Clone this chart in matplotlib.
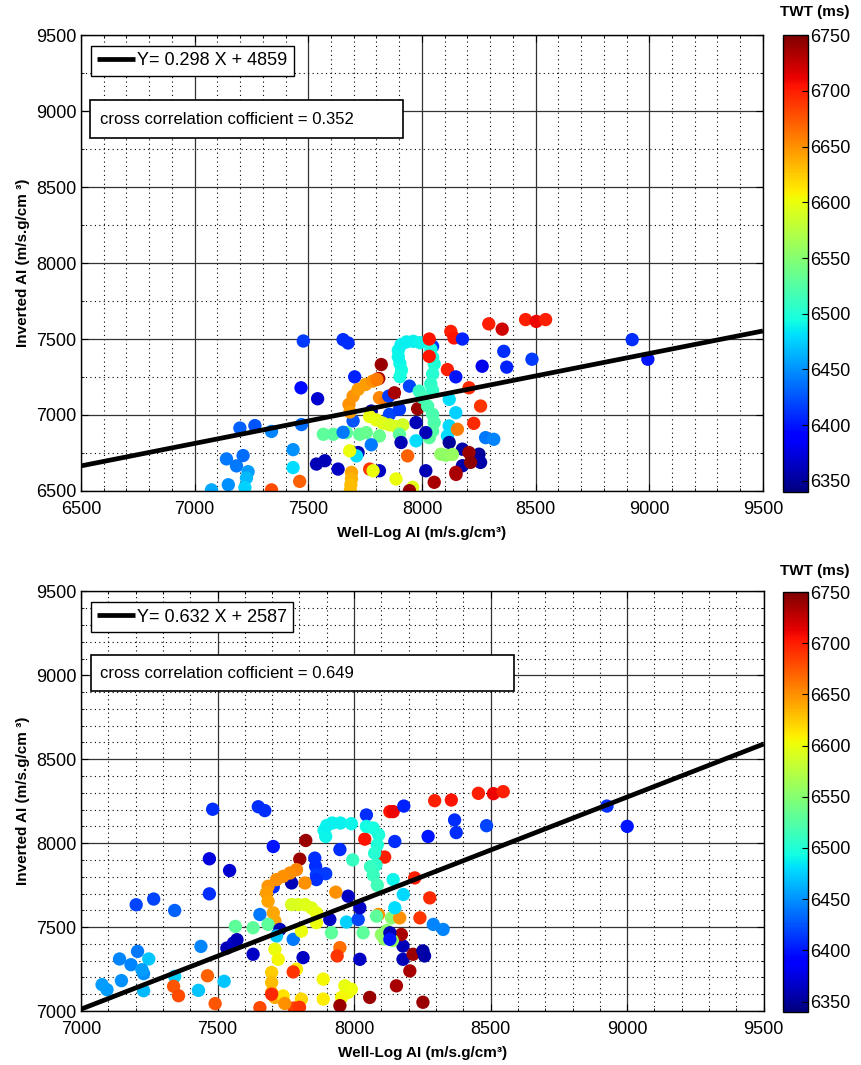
import numpy as np
import matplotlib
matplotlib.use("Agg")
from matplotlib import pyplot as plt
from matplotlib.patches import Rectangle
from matplotlib.ticker import MultipleLocator

plt.rcParams['font.family'] = ['Liberation Sans', 'DejaVu Sans']

# ---- top panel data (well-log AI, inverted AI, TWT) ----
top_welllog = [7199, 7265, 7338, 7470, 7140, 7184, 7213, 7235, 7228, 7148,
               7074, 7221, 7338, 7433, 7433, 7462, 7478, 7653, 7675, 7704,
               7468, 7541, 7821, 7810, 7679, 7697, 7719, 7752, 7784, 7802,
               7813, 7843, 7854, 7879, 7777, 7857, 7901, 7981, 7945, 7903,
               7910, 7903, 7896, 7896, 7908, 7932, 7962, 7991, 8047, 8039,
               8047, 8054, 8047, 8039, 8047, 7988, 8003, 8025, 8047, 8054,
               8047, 8032, 8120, 8149, 8120, 8112, 8127, 8141, 8294, 8353,
               8456, 8503, 8544, 8032, 8032, 8112, 8207, 8258, 8228, 8178,
               8149, 8265, 8360, 8373, 8484, 8925, 8994, 8280, 8316, 7770,
               7799, 7828, 7857, 7886, 7916, 7566, 7610, 7668, 7726, 7755,
               7813, 7901, 7653, 7697, 7777, 7908, 7974, 8017, 7974, 8120,
               8178, 8251, 8258, 8083, 8105, 8134, 8178, 8149, 8207, 8214,
               8156, 7937, 7719, 7712, 7682, 7536, 7573, 7631, 7813, 7770,
               7785, 7690, 7690, 7687, 7685, 7886, 7959, 8017, 8054, 7945,
               8150, 7683]
top_inverted = [6914, 6930, 6892, 6937, 6711, 6665, 6733, 6627, 6586, 6541,
                6507, 6523, 6507, 6772, 6654, 6563, 7487, 7496, 7474, 7251,
                7179, 7107, 7332, 7240, 7070, 7124, 7168, 7201, 7223, 7234,
                7114, 7103, 7124, 7146, 7026, 7004, 7037, 7041, 7190, 7252,
                7295, 7339, 7383, 7426, 7463, 7481, 7485, 7476, 7452, 7433,
                7380, 7336, 7271, 7205, 7162, 7157, 7114, 7059, 7004, 6950,
                6895, 6851, 7103, 7015, 6928, 6862, 7550, 7507, 7600, 7565,
                7628, 7616, 7628, 7500, 7386, 7299, 7179, 7059, 6945, 7500,
                7251, 7321, 7419, 7315, 7367, 7496, 7367, 6851, 6840, 6990,
                6968, 6946, 6935, 6924, 6935, 6873, 6873, 6884, 6873, 6884,
                6862, 6873, 6886, 6961, 6804, 6819, 6950, 6884, 6830, 6819,
                6775, 6742, 6688, 6742, 6735, 6740, 6666, 6622, 6753, 6688,
                6906, 6731, 6753, 6731, 6764, 6677, 6699, 6644, 6633, 6644,
                6633, 6622, 6580, 6540, 6502, 6579, 6524, 6633, 6557, 6502,
                6609, 7020]
top_twt = [6430, 6425, 6445, 6435, 6440, 6440, 6435, 6455, 6465, 6450,
           6460, 6475, 6680, 6450, 6480, 6670, 6415, 6410, 6410, 6405,
           6395, 6370, 6740, 6735, 6650, 6648, 6645, 6645, 6650, 6660,
           6655, 6660, 6415, 6735, 6355, 6420, 6415, 6740, 6420, 6495,
           6495, 6492, 6490, 6490, 6488, 6488, 6488, 6490, 6415, 6495,
           6497, 6500, 6502, 6505, 6508, 6510, 6515, 6518, 6520, 6522,
           6525, 6528, 6480, 6475, 6478, 6480, 6700, 6705, 6700, 6720,
           6700, 6710, 6700, 6705, 6705, 6700, 6695, 6690, 6695, 6405,
           6400, 6380, 6410, 6405, 6415, 6410, 6400, 6440, 6445, 6600,
           6598, 6595, 6593, 6590, 6588, 6530, 6528, 6530, 6532, 6535,
           6535, 6530, 6440, 6425, 6440, 6360, 6360, 6360, 6480, 6350,
           6355, 6350, 6355, 6555, 6556, 6558, 6355, 6730, 6740, 6745,
           6660, 6670, 6360, 6480, 6600, 6360, 6360, 6365, 6365, 6690,
           6600, 6640, 6635, 6630, 6630, 6600, 6595, 6360, 6735, 6740,
           6735, 6645]

# ---- bottom panel data ----
bot_welllog = [7482, 7470, 7544, 7470, 7202, 7266, 7343, 7439, 7141, 7207,
               7183, 7248, 7229, 7223, 7148, 7077, 7095, 7229, 7343, 7339,
               7357, 7463, 7430, 7491, 7524, 7534, 7558, 7571, 7565, 7649,
               7673, 7704, 7823, 7801, 7856, 7859, 7862, 7896, 7862, 7820,
               7771, 7704, 7789, 7765, 7740, 7716, 7685, 7679, 7685, 7704,
               7710, 7655, 7630, 7685, 7728, 7716, 7777, 7807, 7771, 7795,
               7820, 7844, 7862, 7862, 7911, 7917, 7972, 8015, 8021, 7978,
               7933, 8033, 7948, 7938, 8021, 7813, 7630, 7710, 7722, 7698,
               7698, 7698, 7710, 7740, 7789, 7777, 7807, 7887, 7887, 7966,
               7978, 7990, 7954, 7948, 8057, 8155, 8204, 8252, 8179, 8179,
               8216, 8252, 8258, 8173, 8100, 8110, 8140, 8120, 8131, 8131,
               8137, 8167, 8089, 8082, 8149, 8180, 8143, 8241, 8277, 8222,
               8290, 8326, 8112, 8149, 8039, 8045, 8131, 8143, 8182, 8295,
               8356, 8455, 8510, 8546, 8271, 8368, 8374, 8485, 8926, 9000,
               7896, 7890, 7900, 7920, 7950, 7990, 8045, 8070, 8090, 8085,
               8075, 8080, 8060, 8070, 8085, 7995, 7948, 7655, 7780, 7800,
               7746, 7698]
bot_inverted = [8202, 7907, 7837, 7698, 7633, 7667, 7599, 7385, 7310, 7355,
                7276, 7310, 7223, 7246, 7181, 7157, 7127, 7121, 7206, 7147,
                7091, 7210, 7123, 7044, 7177, 7375, 7405, 7425, 7504, 8217,
                8194, 7980, 8016, 7905, 7911, 7862, 7812, 7818, 7783, 7763,
                7763, 7739, 7842, 7822, 7802, 7783, 7743, 7703, 7654, 7585,
                7536, 7575, 7496, 7516, 7486, 7447, 7427, 7476, 7634, 7634,
                7634, 7614, 7585, 7526, 7545, 7466, 7530, 7545, 7615, 7684,
                7708, 7466, 7378, 7328, 7308, 7318, 7338, 7368, 7308, 7230,
                7170, 7110, 7081, 7090, 7249, 7233, 7071, 7190, 7071, 7150,
                7111, 7130, 7081, 7032, 7081, 7150, 7239, 7052, 7387, 7308,
                7338, 7358, 7328, 7456, 7455, 7430, 7420, 7480, 7466, 7427,
                7555, 7555, 7575, 7565, 7615, 7694, 7783, 7555, 7674, 7793,
                7516, 7486, 7917, 8010, 8024, 8168, 8188, 8188, 8221, 8253,
                8257, 8297, 8295, 8307, 8040, 8138, 8063, 8104, 8221, 8100,
                8040, 8076, 8105, 8120, 8120, 8116, 8100, 8090, 8050, 7990,
                7940, 7870, 7860, 7810, 7750, 7900, 7962, 7020, 7018, 7022,
                7045, 7100]
bot_twt = [6410, 6375, 6370, 6410, 6420, 6420, 6430, 6445, 6445, 6440,
           6445, 6470, 6450, 6455, 6450, 6455, 6455, 6465, 6475, 6675,
           6680, 6670, 6470, 6675, 6470, 6360, 6365, 6360, 6530, 6410,
           6410, 6400, 6740, 6740, 6410, 6410, 6415, 6415, 6410, 6650,
           6360, 6410, 6655, 6652, 6650, 6650, 6648, 6645, 6642, 6640,
           6640, 6440, 6530, 6530, 6360, 6470, 6440, 6600, 6590, 6592,
           6594, 6596, 6598, 6600, 6365, 6530, 6475, 6420, 6365, 6365,
           6650, 6530, 6665, 6690, 6365, 6365, 6365, 6600, 6605, 6625,
           6630, 6635, 6640, 6615, 6610, 6690, 6620, 6605, 6610, 6598,
           6600, 6602, 6605, 6740, 6740, 6735, 6735, 6740, 6360, 6360,
           6740, 6355, 6355, 6735, 6555, 6556, 6558, 6554, 6360, 6400,
           6550, 6650, 6650, 6530, 6480, 6478, 6490, 6690, 6695, 6700,
           6445, 6445, 6700, 6410, 6705, 6410, 6705, 6710, 6405, 6700,
           6705, 6700, 6710, 6700, 6400, 6410, 6410, 6420, 6410, 6400,
           6490, 6490, 6488, 6488, 6488, 6490, 6493, 6495, 6497, 6500,
           6502, 6505, 6510, 6512, 6515, 6510, 6410, 6680, 6685, 6690,
           6650, 6695]

# regression lines as drawn (end points)
top_line_x = [6500, 9500]
top_line_y = [6665, 7553]
bot_line_x = [7000, 9500]
bot_line_y = [7011, 8591]

top_eq = 'Y= 0.298 X + 4859'
bot_eq = 'Y= 0.632 X + 2587'
top_cc = 'cross correlation cofficient = 0.352'
bot_cc = 'cross correlation cofficient = 0.649'

twt_min, twt_max = 6340, 6750

fig = plt.figure(figsize=(8.62, 10.65), dpi=100)

panels = [
    dict(rect=[0.094, 0.539, 0.791, 0.428], cbar=[0.908, 0.538, 0.029, 0.429],
         x=top_welllog, y=top_inverted, c=top_twt, lx=top_line_x, ly=top_line_y,
         xlim=(6500, 9500), ylim=(6500, 9500), yminor=250,
         eq=top_eq, cc=top_cc,
         leg_anchor=(0.0147, 0.976), box=(0.0132, 0.774, 0.459, 0.083), cc_xy=(0.028, 0.816)),
    dict(rect=[0.094, 0.0507, 0.792, 0.394], cbar=[0.908, 0.050, 0.029, 0.394],
         x=bot_welllog, y=bot_inverted, c=bot_twt, lx=bot_line_x, ly=bot_line_y,
         xlim=(7000, 9500), ylim=(7000, 9500), yminor=100,
         eq=bot_eq, cc=bot_cc,
         leg_anchor=(0.0146, 0.974), box=(0.0146, 0.762, 0.620, 0.086), cc_xy=(0.028, 0.805)),
]

for p in panels:
    ax = fig.add_axes(p['rect'])
    ax.set_axisbelow(True)
    sc = ax.scatter(p['x'], p['y'], c=p['c'], cmap='jet', vmin=twt_min, vmax=twt_max,
                    s=92, marker='o', edgecolors='none', zorder=2)
    ln, = ax.plot(p['lx'], p['ly'], color='k', lw=3.4, zorder=3, solid_capstyle='butt')
    ax.set_xlim(*p['xlim'])
    ax.set_ylim(*p['ylim'])
    ax.xaxis.set_major_locator(MultipleLocator(500))
    ax.yaxis.set_major_locator(MultipleLocator(500))
    ax.xaxis.set_minor_locator(MultipleLocator(100))
    ax.yaxis.set_minor_locator(MultipleLocator(p['yminor']))
    ax.grid(which='major', color='0.2', lw=0.9, ls='-')
    ax.grid(which='minor', color='k', lw=0.8, ls=(0, (1, 3)))
    ax.tick_params(which='both', direction='in', top=True, right=True, labelsize=13)
    ax.tick_params(which='major', length=5)
    ax.tick_params(which='minor', length=2.5)
    ax.tick_params(axis='x', pad=7)
    for sp in ax.spines.values():
        sp.set_linewidth(1.0)
    ax.set_xlabel('Well-Log AI (m/s.g/cm\u00b3)', fontsize=11, fontweight='bold', labelpad=6)
    ax.set_ylabel('Inverted AI (m/s.g/cm \u00b3)', fontsize=11, fontweight='bold', labelpad=4)

    leg = ax.legend([ln], [p['eq']], loc='upper left', bbox_to_anchor=p['leg_anchor'],
                    borderaxespad=0, fancybox=False, framealpha=1, edgecolor='k',
                    fontsize=13, handlelength=2.1, handletextpad=0.1, borderpad=0.35)
    leg.get_frame().set_linewidth(1.0)

    bx, by, bw, bh = p['box']
    ax.add_patch(Rectangle((bx, by), bw, bh, transform=ax.transAxes, facecolor='white',
                           edgecolor='k', lw=1.2, zorder=5))
    ax.text(p['cc_xy'][0], p['cc_xy'][1], p['cc'], transform=ax.transAxes,
            fontsize=12, ha='left', va='center', zorder=6)

    cax = fig.add_axes(p['cbar'])
    cb = fig.colorbar(sc, cax=cax, ticks=np.arange(6350, 6751, 50))
    cb.outline.set_linewidth(1.0)
    cax.tick_params(labelsize=13, direction='in', length=4, pad=2)
    cax.text(1.3, 1.05, 'TWT (ms)', transform=cax.transAxes, ha='center', va='center',
             fontsize=11, fontweight='bold')

fig.savefig('out.png', dpi=100)
